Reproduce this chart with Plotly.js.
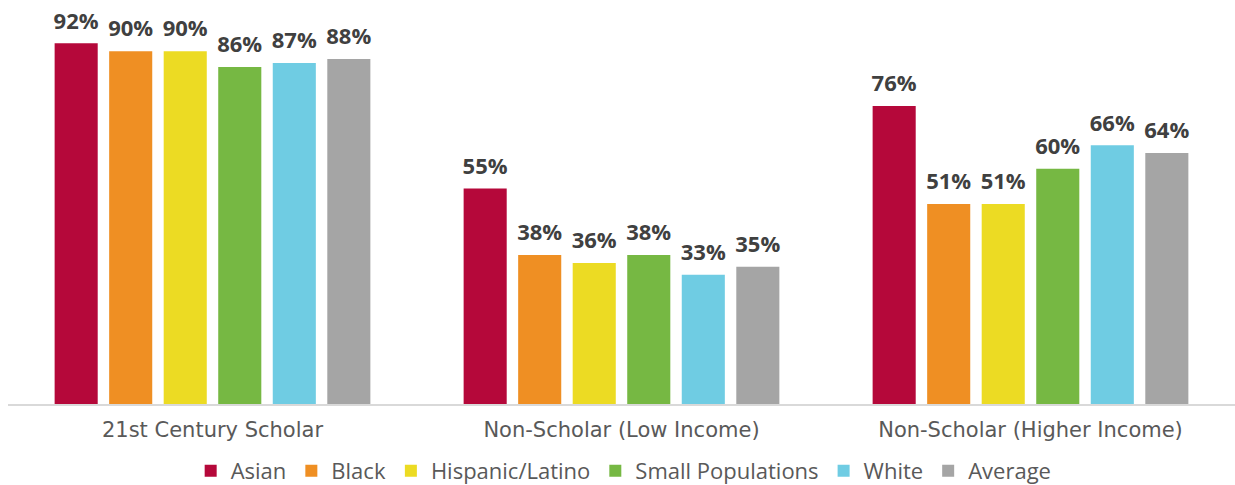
<!DOCTYPE html>
<html>
<head>
<meta charset="utf-8">
<script src="https://cdn.plot.ly/plotly-3.0.1.min.js"></script>
<style>html,body{margin:0;padding:0;background:#fff;}#chart{width:1235px;height:485px;}</style>
</head>
<body>
<div id="chart"></div>
<script>
const categories = ["21st Century Scholar", "Non-Scholar (Low Income)", "Non-Scholar (Higher Income)"];
const seriesNames = ["Asian", "Black", "Hispanic/Latino", "Small Populations", "White", "Average"];
const asian = [92, 55, 76];
const black = [90, 38, 51];
const hispanic = [90, 36, 51];
const smallPop = [86, 38, 60];
const white = [87, 33, 66];
const average = [88, 35, 64];
const colors = ["#b5083a", "#ef8f23", "#ecdb23", "#76b843", "#6fcce3", "#a5a5a5"];

const allSeries = [asian, black, hispanic, smallPop, white, average];
const traces = allSeries.map((vals, i) => ({
  type: "bar",
  name: seriesNames[i],
  x: categories,
  y: vals,
  marker: {color: colors[i]},
  text: vals.map(v => "<span style='font-size:22px'>" + v + "%</span><br>&nbsp;"),
  textposition: "outside",
  constraintext: "none",
  cliponaxis: false,
  textfont: {family: "Open Sans, sans-serif", size: 7.5, color: "#404040", weight: 700},
  hoverinfo: "skip"
}));

const layout = {
  width: 1235, height: 485,
  margin: {l: 8, r: 0, t: 12, b: 81, autoexpand: false},
  paper_bgcolor: "#ffffff", plot_bgcolor: "#ffffff",
  barmode: "group",
  bargap: 0.2,
  bargroupgap: 0.21,
  showlegend: true,
  legend: {orientation: "h", x: 0.505, xanchor: "center", xref: "container",
           y: -0.171, yanchor: "middle", yref: "paper",
           font: {family: "Open Sans, sans-serif", size: 22, color: "#595959"},
           itemwidth: 30, tracegroupgap: 0},
  xaxis: {showline: true, linecolor: "#d9d9d9", linewidth: 2, showgrid: false,
          ticks: "outside", ticklen: 6, tickcolor: "rgba(0,0,0,0)",
          tickfont: {family: "DejaVu Sans, sans-serif", size: 21, color: "#595959"}},
  yaxis: {range: [0, 100], visible: false, showgrid: false, zeroline: false}
};

Plotly.newPlot("chart", traces, layout, {displayModeBar: false, staticPlot: true});
</script>
</body>
</html>
